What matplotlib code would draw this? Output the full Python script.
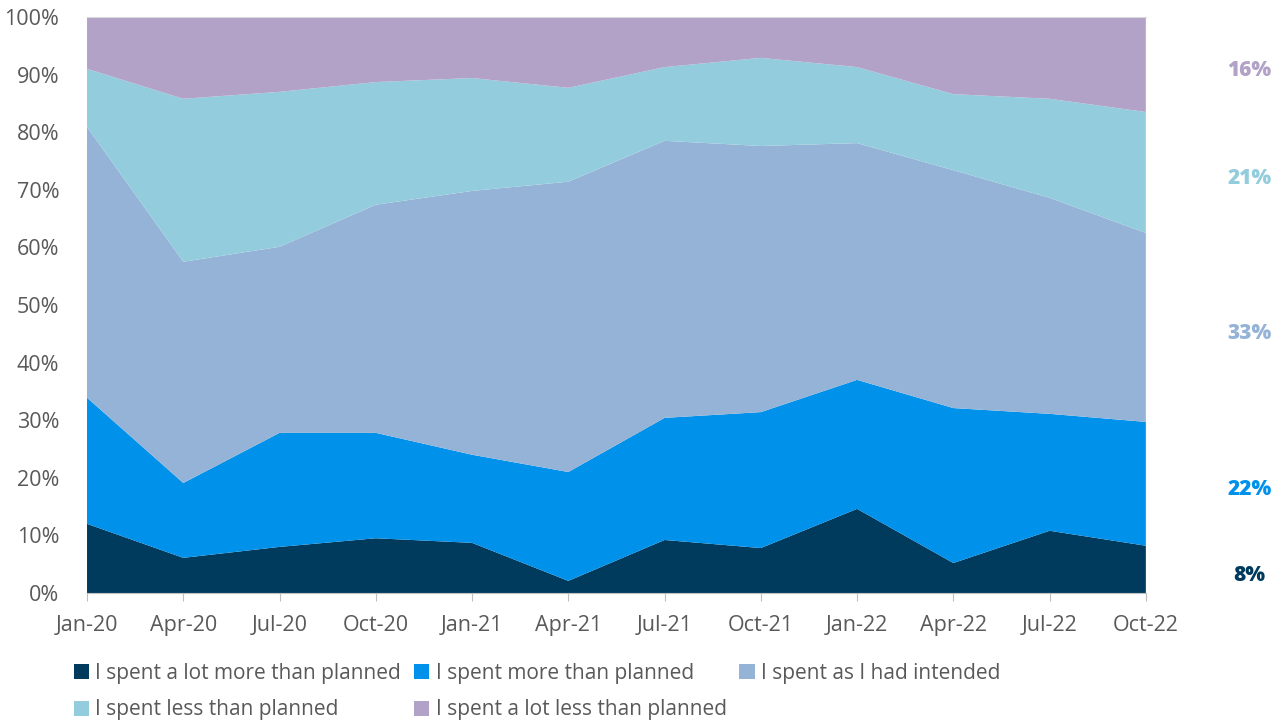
import numpy as np
import matplotlib.pyplot as plt

plt.rcParams['font.family'] = ['Open Sans', 'DejaVu Sans']

months = ['Jan-20', 'Apr-20', 'Jul-20', 'Oct-20', 'Jan-21', 'Apr-21',
          'Jul-21', 'Oct-21', 'Jan-22', 'Apr-22', 'Jul-22', 'Oct-22']

# shares in %
lot_more = [12.0, 6.1, 8.0, 9.5, 8.7, 2.1, 9.2, 7.8, 14.6, 5.2, 10.8, 8.2]
more = [21.9, 13.0, 19.8, 18.3, 15.3, 18.9, 21.2, 23.6, 22.4, 26.9, 20.3, 21.5]
as_intended = [47.0, 38.4, 32.3, 39.6, 45.8, 50.4, 48.1, 46.2, 41.1, 41.3, 37.5, 32.8]
less = [10.1, 28.3, 26.9, 21.3, 19.6, 16.3, 12.8, 15.3, 13.2, 13.2, 17.2, 21.0]
lot_less = [9.0, 14.2, 13.0, 11.3, 10.6, 12.3, 8.7, 7.1, 8.7, 13.4, 14.2, 16.5]
end_labels = ['8%', '22%', '33%', '21%', '16%']

names = ['I spent a lot more than planned', 'I spent more than planned',
         'I spent as I had intended', 'I spent less than planned',
         'I spent a lot less than planned']
colors = ['#003A5C', '#0091EA', '#95B3D7', '#93CDDD', '#B3A2C7']
series = [lot_more, more, as_intended, less, lot_less]

fig = plt.figure(figsize=(12.76, 7.22), dpi=100)
ax = fig.add_axes([0.0682, 0.1787, 0.8298, 0.7978])

x = np.arange(len(months))
polys = ax.stackplot(x, *series, colors=colors, labels=names, linewidth=0)

ax.set_xlim(0, len(months) - 1)
ax.set_ylim(0, 100)
ax.set_yticks(np.arange(0, 101, 10))
ax.set_yticklabels([f'{v}%' for v in range(0, 101, 10)])
ax.set_xticks(x)
ax.set_xticklabels(months)
ax.tick_params(axis='y', length=0, labelsize=15.5, labelcolor='#595959', pad=20)
ax.tick_params(axis='x', length=6, color='#BFBFBF', labelsize=15.5,
               labelcolor='#595959', pad=10)
for s in ['left', 'right']:
    ax.spines[s].set_visible(False)
ax.spines['top'].set_color('#D9D9D9')
ax.spines['bottom'].set_color('#BFBFBF')

# labels at the right end, a bit below the middle of each band
cum = np.cumsum([s[-1] for s in series])
prev = 0
for lab, top, c in zip(end_labels, cum, colors):
    mid = (prev + top) / 2 - 1.0
    ax.text(1.098, mid / 100, lab, transform=ax.transAxes, color=c,
            fontsize=15, fontweight='heavy', ha='center', va='center')
    prev = top

order = [0, 3, 1, 4, 2]
handles, labels = ax.get_legend_handles_labels()
fig.legend([handles[i] for i in order], [labels[i] for i in order],
           loc='upper left', bbox_to_anchor=(0.043, 0.108), ncol=3,
           frameon=False, fontsize=15, labelcolor='#595959',
           handlelength=0.75, handleheight=0.75, handletextpad=0.3,
           columnspacing=0.6, labelspacing=0.75)

fig.savefig('out.png', dpi=100)
